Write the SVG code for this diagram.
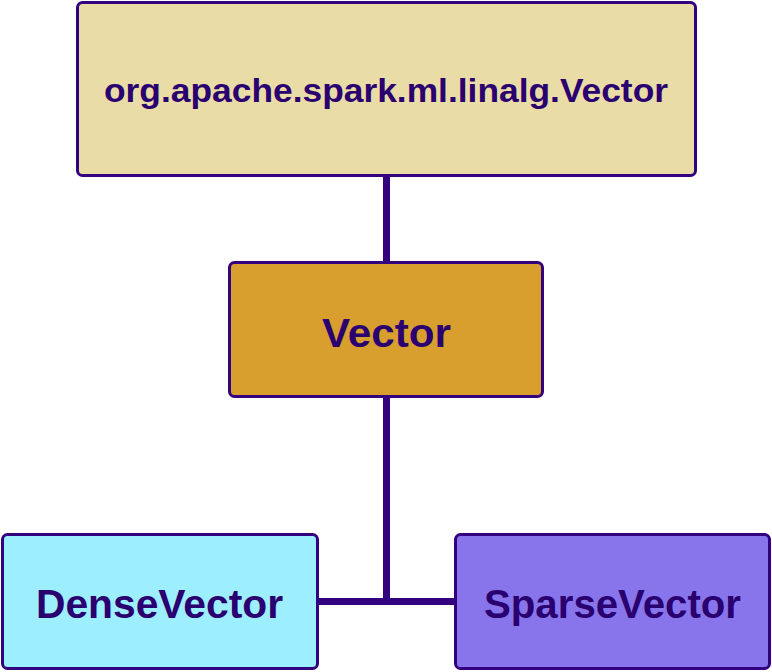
<svg xmlns="http://www.w3.org/2000/svg" width="772" height="672" viewBox="0 0 772 672">
<style>
.box{stroke:#330080;stroke-width:3}
.lbl{font-family:"Liberation Sans",Arial,sans-serif;font-weight:bold;fill:#2a0070;text-anchor:middle}
.conn{stroke:#330080;stroke-width:7;fill:none}
</style>
<rect width="772" height="672" fill="#ffffff"/>
<g id="connectors">
<line class="conn" x1="386.5" y1="176" x2="386.5" y2="262"/>
<line class="conn" x1="386.5" y1="396" x2="386.5" y2="601.5"/>
<line class="conn" x1="317" y1="601.5" x2="456" y2="601.5"/>
</g>
<g id="node-linalg">
<rect class="box" x="77.5" y="2.5" width="618" height="173" rx="5" fill="#eadca6"/>
<text class="lbl" x="386" y="102" font-size="33" textLength="564" lengthAdjust="spacingAndGlyphs">org.apache.spark.ml.linalg.Vector</text>
</g>
<g id="node-vector">
<rect class="box" x="229.5" y="262.5" width="313" height="134" rx="5" fill="#d89f2e"/>
<text class="lbl" x="386.5" y="347" font-size="40" textLength="129" lengthAdjust="spacingAndGlyphs">Vector</text>
</g>
<g id="node-dense">
<rect class="box" x="2.5" y="534.5" width="315" height="134" rx="5" fill="#9defff"/>
<text class="lbl" x="159.5" y="618" font-size="40" textLength="247" lengthAdjust="spacingAndGlyphs">DenseVector</text>
</g>
<g id="node-sparse">
<rect class="box" x="455.5" y="534.5" width="314" height="134" rx="5" fill="#8875ec"/>
<text class="lbl" x="612.5" y="618" font-size="40" textLength="257" lengthAdjust="spacingAndGlyphs">SparseVector</text>
</g>
</svg>
